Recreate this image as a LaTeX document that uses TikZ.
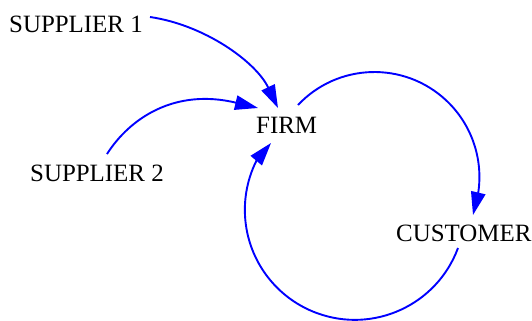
\documentclass[tikz,border=0pt]{standalone}
\usepackage{fontspec}
\setmainfont{Liberation Serif}
\usetikzlibrary{arrows.meta}
\begin{document}
\begin{tikzpicture}[x=1bp,y=-1bp,
  label/.style={inner sep=0pt,anchor=base west,font=\fontsize{25}{28}\selectfont},
  link/.style={draw=blue,line width=1.9bp,
    -{Triangle[length=23bp,width=14.5bp]}}]
\useasboundingbox (0,0) rectangle (532,320);

\node[label] (s1)   at (9,32)    {SUPPLIER 1};
\node[label] (s2)   at (30,181)  {SUPPLIER 2};
\node[label] (firm) at (256,133) {FIRM};
\node[label] (cust) at (396,241) {CUSTOMER};

% suppliers feeding the firm
\draw[link] ([shift={(141,-15)}]s1.base west)
  .. controls +(55,8) and +(-22,-46) .. ([shift={(22,-25)}]firm.base west);
\draw[link] ([shift={(77,-27)}]s2.base west)
  .. controls +(23,-36) and +(-83,-20) .. ([shift={(2,-25)}]firm.base west);

% loop between firm and customer
\draw[link] ([shift={(42,-28)}]firm.base west)
  arc[start angle=223.3,end angle=368.8,radius=105]
  -- ([shift={(77,-26)}]cust.base west);
\draw[link] ([shift={(62,7)}]cust.base west)
  arc[start angle=20.3,end angle=207,radius=110]
  -- ([shift={(15,10)}]firm.base west);
\end{tikzpicture}
\end{document}
